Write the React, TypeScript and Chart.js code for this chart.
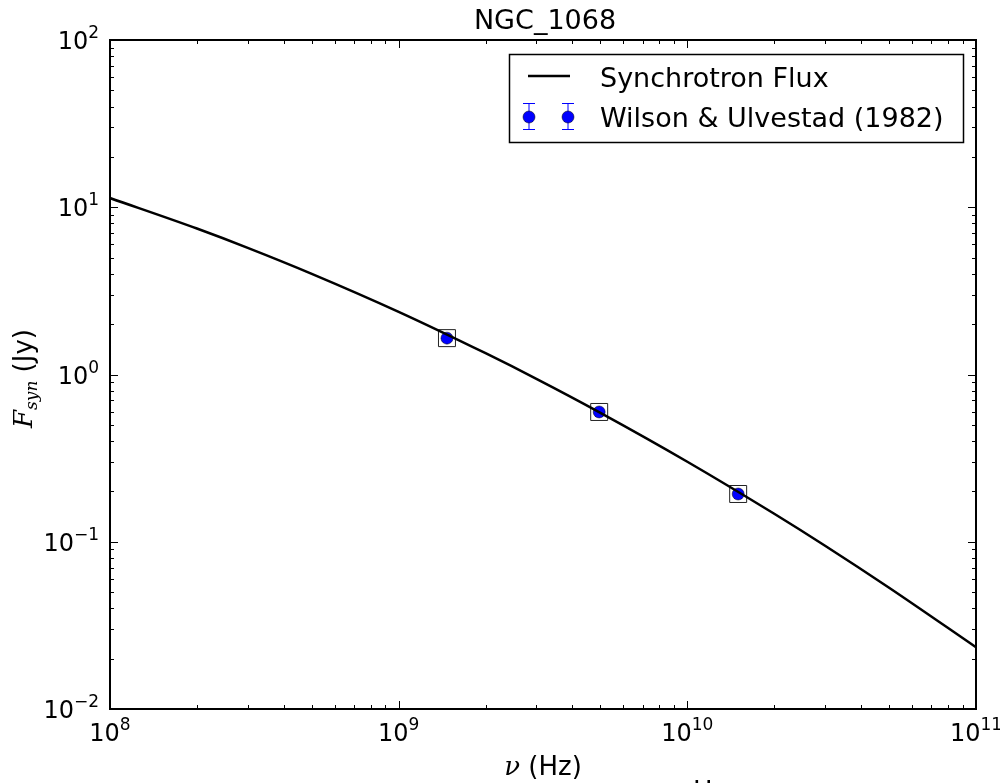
import React, { useEffect, useRef } from "react";
import { Chart, registerables } from "chart.js";

Chart.register(...registerables);

// Synchrotron model curve (frequency in Hz, flux in Jy)
const curveFreq = [1e8, 2e8, 3e8, 5e8, 1e9, 2e9, 3e9, 5e9, 1e10, 2e10, 3e10, 5e10, 1e11];
const curveFlux = [11.35, 7.46, 5.72, 4.0, 2.37, 1.34, 0.942, 0.59, 0.301, 0.147, 0.0947, 0.0531, 0.0234];

// Wilson & Ulvestad (1982) observations
const obsFreq = [1.47e9, 4.95e9, 1.5e10];
const obsFlux = [1.65, 0.597, 0.193];

// Model values at the observed frequencies (open squares)
const modelFlux = [1.65, 0.597, 0.193];

const xTickExps = [8, 9, 10, 11];
const yTickExps = [-2, -1, 0, 1, 2];

const titleText = "NGC_1068";
const legendLabels = ["Synchrotron Flux", "Wilson & Ulvestad (1982)"];

const SANS = '"DejaVu Sans", sans-serif';
const SERIF = '"DejaVu Serif", serif';

function drawPow(ctx: CanvasRenderingContext2D, exp: number, x: number, y: number, align: "center" | "right") {
  const base = "10";
  const sup = exp < 0 ? "\u2212" + Math.abs(exp) : String(exp);
  ctx.font = `24px ${SANS}`;
  const wb = ctx.measureText(base).width;
  ctx.font = `17px ${SANS}`;
  const ws = ctx.measureText(sup).width;
  const total = wb + ws;
  const left = align === "center" ? x - total / 2 : x - total;
  ctx.textAlign = "left";
  ctx.textBaseline = "alphabetic";
  ctx.fillStyle = "#000";
  ctx.font = `24px ${SANS}`;
  ctx.fillText(base, left, y);
  ctx.font = `17px ${SANS}`;
  ctx.fillText(sup, left + wb, y - 11);
}

const overlay = {
  id: "overlay",
  afterDraw(chart: any) {
    const ctx: CanvasRenderingContext2D = chart.ctx;
    const { left, right, top, bottom } = chart.chartArea;
    const xs = chart.scales.x;
    const ys = chart.scales.y;
    ctx.save();
    ctx.strokeStyle = "#000";
    ctx.lineWidth = 1;
    const xMajor: number[] = [];
    const xMinor: number[] = [];
    for (let e = 8; e <= 11; e++) {
      xMajor.push(Math.pow(10, e));
      if (e < 11) for (let m = 2; m <= 9; m++) xMinor.push(m * Math.pow(10, e));
    }
    const yMajor: number[] = [];
    const yMinor: number[] = [];
    for (let e = -2; e <= 2; e++) {
      yMajor.push(Math.pow(10, e));
      if (e < 2) for (let m = 2; m <= 9; m++) yMinor.push(m * Math.pow(10, e));
    }
    const tick = (x1: number, y1: number, x2: number, y2: number) => {
      ctx.beginPath();
      ctx.moveTo(x1, y1);
      ctx.lineTo(x2, y2);
      ctx.stroke();
    };
    xMajor.forEach((v) => {
      const px = Math.round(xs.getPixelForValue(v)) + 0.5;
      tick(px, bottom, px, bottom - 8);
      tick(px, top, px, top + 8);
    });
    xMinor.forEach((v) => {
      const px = Math.round(xs.getPixelForValue(v)) + 0.5;
      tick(px, bottom, px, bottom - 4);
      tick(px, top, px, top + 4);
    });
    yMajor.forEach((v) => {
      const py = Math.round(ys.getPixelForValue(v)) + 0.5;
      tick(left, py, left + 8, py);
      tick(right, py, right - 8, py);
    });
    yMinor.forEach((v) => {
      const py = Math.round(ys.getPixelForValue(v)) + 0.5;
      tick(left, py, left + 4, py);
      tick(right, py, right - 4, py);
    });
    ctx.lineWidth = 2;
    ctx.strokeRect(left, top, right - left, bottom - top);

    xTickExps.forEach((e) => {
      const px = xs.getPixelForValue(Math.pow(10, e));
      drawPow(ctx, e, px, bottom + 32, "center");
    });
    yTickExps.forEach((e) => {
      const py = ys.getPixelForValue(Math.pow(10, e));
      drawPow(ctx, e, left - 11, py + 9, "right");
    });

    ctx.fillStyle = "#000";
    ctx.font = `27px ${SANS}`;
    ctx.textAlign = "center";
    ctx.textBaseline = "alphabetic";
    ctx.fillText(titleText, (left + right) / 2 + 2, 29);

    ctx.font = `italic 26px ${SERIF}`;
    const wNu = ctx.measureText("\u03bd").width;
    ctx.font = `26px ${SANS}`;
    const wHz = ctx.measureText(" (Hz)").width;
    const xl = (left + right) / 2 - (wNu + wHz) / 2;
    ctx.textAlign = "left";
    ctx.font = `italic 26px ${SERIF}`;
    ctx.fillText("\u03bd", xl, 775);
    ctx.font = `26px ${SANS}`;
    ctx.fillText(" (Hz)", xl + wNu, 775);

    ctx.fillText("Hz", 693, 800);

    ctx.save();
    ctx.translate(32, (top + bottom) / 2 + 4);
    ctx.rotate(-Math.PI / 2);
    ctx.font = `italic 26px ${SERIF}`;
    const wF = ctx.measureText("F").width;
    ctx.font = `italic 17px ${SERIF}`;
    const wSyn = ctx.measureText("syn").width;
    ctx.font = `26px ${SANS}`;
    const wJy = ctx.measureText(" (Jy)").width;
    let cx = -(wF + wSyn + wJy) / 2;
    ctx.font = `italic 26px ${SERIF}`;
    ctx.fillText("F", cx, 0);
    cx += wF;
    ctx.font = `italic 17px ${SERIF}`;
    ctx.fillText("syn", cx, 5);
    cx += wSyn;
    ctx.font = `26px ${SANS}`;
    ctx.fillText(" (Jy)", cx, 0);
    ctx.restore();

    ctx.fillStyle = "#fff";
    ctx.fillRect(509, 54, 455, 89);
    ctx.lineWidth = 1.5;
    ctx.strokeStyle = "#000";
    ctx.strokeRect(509.5, 54.5, 454, 88);
    ctx.lineWidth = 2.5;
    ctx.beginPath();
    ctx.moveTo(528, 76);
    ctx.lineTo(570, 76);
    ctx.stroke();
    [529, 568].forEach((mx) => {
      ctx.strokeStyle = "#0000ff";
      ctx.lineWidth = 1;
      tick(mx, 103, mx, 130);
      tick(mx - 6, 103.5, mx + 6, 103.5);
      tick(mx - 6, 129.5, mx + 6, 129.5);
      ctx.beginPath();
      ctx.arc(mx, 117, 6, 0, Math.PI * 2);
      ctx.fillStyle = "#0000ff";
      ctx.fill();
      ctx.strokeStyle = "#000";
      ctx.lineWidth = 0.5;
      ctx.stroke();
    });
    ctx.fillStyle = "#000";
    ctx.font = `27px ${SANS}`;
    ctx.textAlign = "left";
    ctx.fillText(legendLabels[0], 600, 87);
    ctx.fillText(legendLabels[1], 600, 127);
    ctx.restore();
  },
};

export default function App() {
  const ref = useRef<HTMLCanvasElement>(null);
  useEffect(() => {
    if (!ref.current) return;
    const chart = new Chart(ref.current, {
      type: "scatter",
      data: {
        datasets: [
          {
            label: legendLabels[0],
            data: curveFreq.map((f, i) => ({ x: f, y: curveFlux[i] })),
            showLine: true,
            borderColor: "#000",
            borderWidth: 2.5,
            pointRadius: 0,
            cubicInterpolationMode: "monotone",
          },
          {
            label: "model",
            data: obsFreq.map((f, i) => ({ x: f, y: modelFlux[i] })),
            pointStyle: "rect",
            pointRadius: 12,
            backgroundColor: "rgba(0,0,0,0)",
            borderColor: "#222",
            borderWidth: 1,
          },
          {
            label: legendLabels[1],
            data: obsFreq.map((f, i) => ({ x: f, y: obsFlux[i] })),
            pointStyle: "circle",
            pointRadius: 6,
            backgroundColor: "#0000ff",
            borderColor: "#000",
            borderWidth: 0.5,
          },
        ],
      },
      options: {
        animation: false,
        responsive: false,
        maintainAspectRatio: false,
        layout: { padding: { left: 110, right: 24, top: 40, bottom: 74 } },
        scales: {
          x: { type: "logarithmic", min: 1e8, max: 1e11, display: false },
          y: { type: "logarithmic", min: 0.01, max: 100, display: false },
        },
        plugins: { legend: { display: false }, tooltip: { enabled: false }, title: { display: false } },
      },
      plugins: [overlay],
    });
    return () => chart.destroy();
  }, []);
  return (
    <div style={{ position: "absolute", left: 0, top: 0, width: 1000, height: 783, background: "#fff" }}>
      <canvas ref={ref} width={1000} height={783} style={{ display: "block" }} />
    </div>
  );
}
